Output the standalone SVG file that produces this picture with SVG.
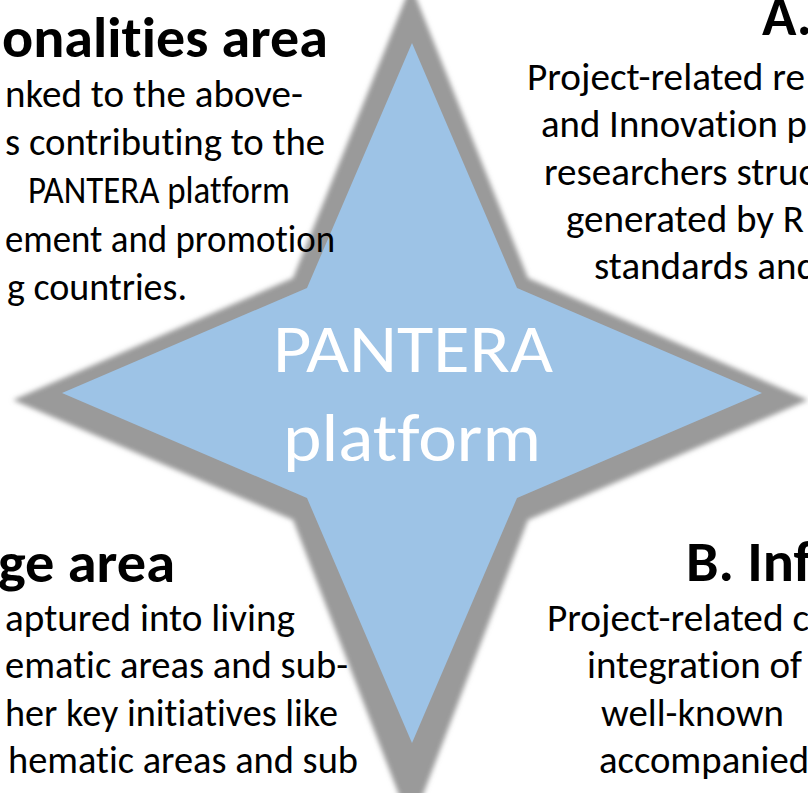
<svg xmlns="http://www.w3.org/2000/svg" width="808" height="793" viewBox="0 0 808 793">
<defs>
<style>
text{font-family:Calibri,Carlito,Lato,"Open Sans",sans-serif;font-variant-ligatures:none;font-feature-settings:"liga" 0,"clig" 0}
.body{font-size:38px;fill:#000}
.head{font-size:57px;font-weight:bold;fill:#000}
.center{font-size:68px;fill:#fff}
</style>
<filter id="soft" x="-10%" y="-10%" width="120%" height="120%">
<feGaussianBlur stdDeviation="2.5"/>
</filter>
</defs>
<rect width="808" height="793" fill="#fff"/>
<g id="star">
<path d="M411,-15 L528,278 L808,400 L528,520 L411,826 L293,520 L13,400 L293,278 Z" fill="#9a9a9a" filter="url(#soft)"/>
<path d="M412,43 L517,288 L762,393 L517,498 L412,743 L307,498 L62,393 L307,288 Z" fill="#9dc3e6"/>
<text class="center" x="413" y="372" text-anchor="middle" textLength="280" lengthAdjust="spacingAndGlyphs">PANTERA</text>
<text class="center" x="412" y="461" text-anchor="middle" textLength="258" lengthAdjust="spacingAndGlyphs">platform</text>
</g>
<g id="area-top-left">
<text class="head" x="2" y="57" textLength="326" lengthAdjust="spacingAndGlyphs">onalities area</text>
<text class="body" x="5" y="107" textLength="298" lengthAdjust="spacingAndGlyphs">nked to the above-</text>
<text class="body" x="5" y="155" textLength="320" lengthAdjust="spacingAndGlyphs">s contributing to the</text>
<text class="body" x="28" y="203" textLength="262" lengthAdjust="spacingAndGlyphs">PANTERA platform</text>
<text class="body" x="5" y="252" textLength="330" lengthAdjust="spacingAndGlyphs">ement and promotion</text>
<text class="body" x="7" y="300" textLength="180" lengthAdjust="spacingAndGlyphs">g countries.</text>
</g>
<g id="area-top-right">
<text class="head" x="762" y="35" textLength="50" lengthAdjust="spacingAndGlyphs">A.</text>
<text class="body" x="527" y="90" textLength="278" lengthAdjust="spacingAndGlyphs">Project-related re</text>
<text class="body" x="541" y="137" textLength="266" lengthAdjust="spacingAndGlyphs">and Innovation p</text>
<text class="body" x="544" y="185" textLength="271" lengthAdjust="spacingAndGlyphs">researchers struc</text>
<text class="body" x="566" y="232" textLength="238" lengthAdjust="spacingAndGlyphs">generated by R</text>
<text class="body" x="594" y="279" textLength="223" lengthAdjust="spacingAndGlyphs">standards and</text>
</g>
<g id="area-bottom-left">
<text class="head" x="-2" y="582" textLength="177" lengthAdjust="spacingAndGlyphs">ge area</text>
<text class="body" x="5" y="631" textLength="290" lengthAdjust="spacingAndGlyphs">aptured into living</text>
<text class="body" x="5" y="678" textLength="343" lengthAdjust="spacingAndGlyphs">ematic areas and sub-</text>
<text class="body" x="5" y="726" textLength="333" lengthAdjust="spacingAndGlyphs">her key initiatives like</text>
<text class="body" x="8" y="773" textLength="350" lengthAdjust="spacingAndGlyphs">hematic areas and sub</text>
</g>
<g id="area-bottom-right">
<text class="head" x="686" y="581" textLength="126" lengthAdjust="spacingAndGlyphs">B. Inf</text>
<text class="body" x="547" y="631" textLength="262" lengthAdjust="spacingAndGlyphs">Project-related c</text>
<text class="body" x="587" y="678" textLength="215" lengthAdjust="spacingAndGlyphs">integration of</text>
<text class="body" x="601" y="726" textLength="183" lengthAdjust="spacingAndGlyphs">well-known</text>
<text class="body" x="599" y="773" textLength="210" lengthAdjust="spacingAndGlyphs">accompanied</text>
</g>
<g id="connectors"/>
</svg>
